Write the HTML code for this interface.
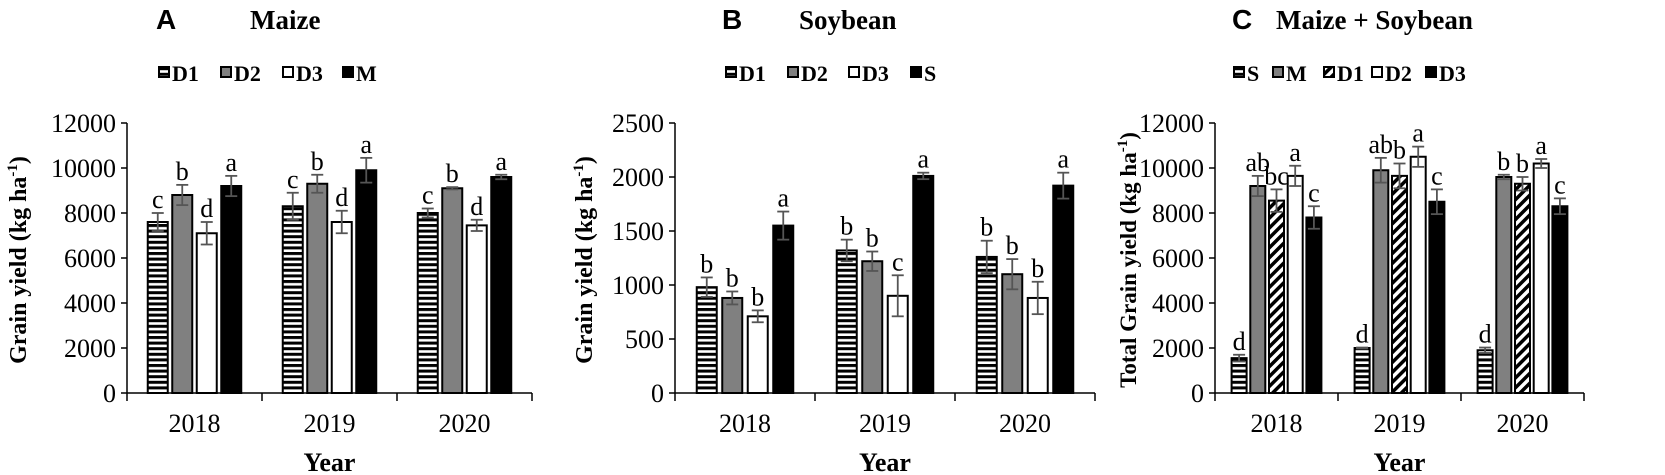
<!DOCTYPE html>
<html><head><meta charset="utf-8">
<style>
body{margin:0;background:#fff;width:1665px;height:475px;overflow:hidden}
svg{display:block}
.t{font-family:"Liberation Serif",serif;font-size:26px;fill:#000}
.b{font-family:"Liberation Serif",serif;font-weight:bold;font-size:22px;fill:#000}
.yl{font-family:"Liberation Serif",serif;font-weight:bold;font-size:24px;fill:#000}
.yr{font-family:"Liberation Serif",serif;font-weight:bold;font-size:26px;fill:#000}
.h{font-family:"Liberation Serif",serif;font-weight:bold;font-size:27px;fill:#000}
.hs{font-family:"Liberation Sans",sans-serif;font-weight:bold;font-size:28px;fill:#000}
</style></head><body>
<svg id="chart" width="1665" height="475">
<defs>
<pattern id="hstripe" width="6" height="5.6" patternUnits="userSpaceOnUse"><rect width="6" height="5.6" fill="#fff"/><rect width="6" height="3" fill="#000"/></pattern>
<pattern id="dstripe" width="7" height="7" patternUnits="userSpaceOnUse" patternTransform="rotate(45)"><rect width="7" height="7" fill="#fff"/><rect width="3.5" height="7" fill="#000"/></pattern>
</defs>
</svg>
<script>
const years=["2018","2019","2020"];
const seriesA=["D1","D2","D3","M"];
const valsA=[[7600,8300,8000],[8800,9300,9100],[7100,7600,7450],[9200,9900,9600]];
const errA=[[400,600,200],[450,400,50],[500,500,250],[450,550,100]];
const letA=[["c","c","c"],["b","b","b"],["d","d","d"],["a","a","a"]];
const ticksA=[0,2000,4000,6000,8000,10000,12000];
const seriesB=["D1","D2","D3","S"];
const valsB=[[980,1320,1260],[880,1220,1100],[710,900,880],[1550,2010,1920]];
const errB=[[90,100,150],[60,90,140],[55,190,150],[130,30,120]];
const letB=[["b","b","b"],["b","b","b"],["b","c","b"],["a","a","a"]];
const ticksB=[0,500,1000,1500,2000,2500];
const seriesC=["S","M","D1","D2","D3"];
const valsC=[[1550,2000,1900],[9200,9900,9600],[8550,9650,9300],[9650,10500,10200],[7800,8500,8300]];
const errC=[[150,20,120],[450,550,100],[500,550,300],[450,450,200],[500,550,350]];
const letC=[["d","d","d"],["ab","ab","b"],["bc","b","b"],["a","a","a"],["c","c","c"]];
const ticksC=[0,2000,4000,6000,8000,10000,12000];

const NS="http://www.w3.org/2000/svg";
const svg=document.getElementById('chart');
function mk(tag,attrs,parent,txt){const e=document.createElementNS(NS,tag);for(const k in attrs)e.setAttribute(k,attrs[k]);if(txt!==undefined)e.textContent=txt;(parent||svg).appendChild(e);return e;}

function panel(cfg){
  const g=mk('g',{});
  
  
  const y0=393,y1=123;
  const ymax=cfg.ticks[cfg.ticks.length-1];
  const ys=v=>y0-(v/ymax)*(y0-y1);
  const gw=(cfg.x1-cfg.x0)/years.length;
  const ta=mk('text',{x:cfg.titleX,y:29,class:'hs'},g,cfg.letter);
  
  
  const tt=mk('text',{x:cfg.titleX2,y:29,class:'h'},g,cfg.title);
  
  
  cfg.series.forEach((s,i)=>{
    const lg=mk('g',{},g);
    
    
    const bx=cfg.legX[i];
    mk('rect',{x:bx+1,y:67,width:10,height:10,fill:cfg.fills[i],stroke:'#000','stroke-width':2},lg);
    mk('text',{x:bx+14,y:81,class:'b'},lg,s);
  });
  const ax=mk('g',{},g);
  
  
  mk('line',{x1:cfg.x0,y1:y1,x2:cfg.x0,y2:y0,stroke:'#000','stroke-width':1.5},ax);
  cfg.ticks.forEach(t=>{
    mk('line',{x1:cfg.x0-6,y1:ys(t),x2:cfg.x0,y2:ys(t),stroke:'#000','stroke-width':1.5},ax);
    const tl=mk('text',{x:cfg.x0-11,y:ys(t)+9,class:'t','text-anchor':'end'},ax,t);
    
    
  });
  const yl=mk('text',{x:0,y:0,class:'yl','text-anchor':'middle','font-size':cfg.ylabSize,transform:`translate(${cfg.ylabX},260) rotate(-90)`},g);
  
  
  yl.style.fontSize=cfg.ylabSize+'px';
  yl.innerHTML=cfg.ylab+'(kg ha<tspan dy="-9" font-size="15" style="font-size:15px">-1</tspan><tspan dy="9">)</tspan>';
  const xa=mk('g',{},g);
  
  
  mk('line',{x1:cfg.x0,y1:y0,x2:cfg.x1,y2:y0,stroke:'#000','stroke-width':1.5},xa);
  for(let j=0;j<=years.length;j++){const x=cfg.x0+j*gw;mk('line',{x1:x,y1:y0,x2:x,y2:y0+8,stroke:'#000','stroke-width':1.5},xa);}
  years.forEach((yr,j)=>{
    const xl=mk('text',{x:cfg.x0+gw*(j+0.5),y:432,class:'t','text-anchor':'middle'},xa,yr);
    
    
  });
  const xt=mk('text',{x:(cfg.x0+cfg.x1)/2,y:471,class:'yr','text-anchor':'middle'},g,'Year');
  
  
  const n=cfg.series.length;
  years.forEach((yr,j)=>{
    const gc=cfg.x0+gw*(j+0.5);
    const start=gc-(n*cfg.step-(cfg.step-cfg.bw))/2;
    for(let i=0;i<n;i++){
      const v=cfg.vals[i][j],e=cfg.err[i][j];
      const x=start+i*cfg.step;
      const bar=mk('rect',{x:x,y:ys(v),width:cfg.bw,height:y0-ys(v),fill:cfg.fills[i],stroke:'#000','stroke-width':2},g);
      
      
      const cx=x+cfg.bw/2;
      const eb=mk('g',{stroke:'#555','stroke-width':1.8},g);
      
      
      mk('line',{x1:cx,y1:ys(v+e),x2:cx,y2:ys(v-e)},eb);
      mk('line',{x1:cx-6,y1:ys(v+e),x2:cx+6,y2:ys(v+e)},eb);
      mk('line',{x1:cx-6,y1:ys(v-e),x2:cx+6,y2:ys(v-e)},eb);
      const lt=mk('text',{x:cx,y:ys(v+e)-5,class:'t','text-anchor':'middle'},g,cfg.lets[i][j]);
      
      
    }
  });
}
panel({name:'panel-a-maize',letter:'A',title:'Maize',titleX:156,titleX2:250,x0:127,x1:532,ticks:ticksA,series:seriesA,vals:valsA,err:errA,lets:letA,
  fills:['url(#hstripe)','#808080','#fff','#000'],legX:[158,220,282,342],ylabX:26,ylabSize:24,ylab:'Grain yield ',bw:20,step:24.5});
panel({name:'panel-b-soybean',letter:'B',title:'Soybean',titleX:722,titleX2:799,x0:675,x1:1095,ticks:ticksB,series:seriesB,vals:valsB,err:errB,lets:letB,
  fills:['url(#hstripe)','#808080','#fff','#000'],legX:[725,787,848,910],ylabX:592,ylabSize:24,ylab:'Grain yield ',bw:20,step:25.5});
panel({name:'panel-c-maize-soybean',letter:'C',title:'Maize + Soybean',titleX:1232,titleX2:1276,x0:1215,x1:1584,ticks:ticksC,series:seriesC,vals:valsC,err:errC,lets:letC,
  fills:['url(#hstripe)','#808080','url(#dstripe)','#fff','#000'],legX:[1233,1272,1323,1371,1425],ylabX:1136,ylabSize:23,ylab:'Total Grain yield ',bw:15,step:18.7});
</script>
</body></html>
